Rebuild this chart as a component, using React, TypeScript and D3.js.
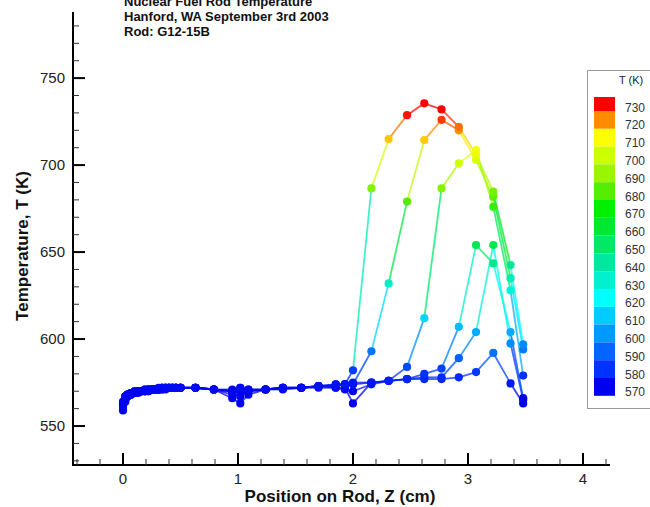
import React from 'react';
import * as d3 from 'd3';

// positions along the rod (cm), shared by every curve
const zPos = [0, 0.02, 0.04, 0.07, 0.1, 0.13, 0.16, 0.19, 0.22, 0.25, 0.28, 0.31, 0.34, 0.37, 0.4, 0.43, 0.46, 0.5,
  0.63, 0.79, 0.95, 1.02, 1.09, 1.24, 1.39, 1.55, 1.7, 1.85, 1.93, 2.0,
  2.16, 2.31, 2.47, 2.62, 2.77, 2.92, 3.07, 3.22, 3.37, 3.48];

// temperatures (K) for each curve
const tempA = [563, 566, 568, 569, 569, 570, 570, 570, 571, 571, 571, 571, 571, 572, 572, 572, 572, 572,
  572, 571, 570, 572, 571, 571, 572, 572, 573, 573, 574, 582,
  686.6, 715, 728.7, 735.5, 732, 722, 706, 684.7, 642.5, 597];
const tempB = [561, 565, 567, 568, 569, 569, 570, 570, 570, 571, 571, 571, 571, 571, 572, 572, 572, 572,
  572, 571, 570, 569, 570, 571, 572, 572, 573, 573, 574, 574,
  593, 632, 679, 714.4, 726, 720, 703, 681.8, 635, 594];
const tempC = [559, 564, 567, 568, 569, 570, 570, 570, 570, 571, 571, 571, 572, 572, 572, 572, 572, 572,
  572, 571, 566, 563, 568, 571, 572, 572, 572, 572, 571, 570,
  574, 576, 584, 612, 686.6, 701, 708.6, 676, 628, 579];
const tempD = [564, 567, 568, 569, 570, 570, 570, 571, 571, 571, 571, 572, 572, 572, 572, 572, 572, 572,
  572, 571, 568, 567, 570, 571, 571, 572, 573, 574, 574, 574,
  575, 576, 577, 580, 583, 607, 654, 643.5, 604, 566];
const tempE = [562, 566, 568, 569, 569, 570, 570, 570, 571, 571, 571, 571, 572, 572, 572, 572, 572, 572,
  572, 571, 571, 572, 570, 571, 572, 572, 573, 572, 572, 563,
  575, 576, 577, 578, 578, 589, 604, 654, 597.5, 565];
const tempF = [563, 567, 568, 569, 570, 570, 570, 571, 571, 571, 571, 571, 572, 572, 572, 572, 572, 572,
  572, 571, 570, 571, 571, 571, 572, 572, 573, 574, 574, 575,
  575, 576, 577, 577, 577, 578, 581, 592, 574.5, 563];

const curves = [tempF, tempE, tempD, tempC, tempB, tempA];

// contour legend
const legendLevels = [730, 720, 710, 700, 690, 680, 670, 660, 650, 640, 630, 620, 610, 600, 590, 580, 570];
const legendColors = ['#ff0000', '#ff8c00', '#ffff00', '#ccff00', '#99f500', '#55ee00', '#00f000', '#00e830',
  '#00e866', '#00e8a0', '#00f0d0', '#00ffff', '#00ccff', '#0099ff', '#0066ff', '#0033ff', '#0000f0'];

const titleLines = ['Nuclear Fuel Rod Temperature', 'Hanford, WA September 3rd 2003', 'Rod: G12-15B'];

const xMajor = [0, 1, 2, 3, 4];
const yMajor = [550, 600, 650, 700, 750];

export default function App() {
  const left = 73, right = 610, top = 12, bottom = 465;
  const x = d3.scaleLinear().domain([-0.435, 4.235]).range([left, right]);
  const y = d3.scaleLinear().domain([527.6, 788]).range([bottom, top]);
  const color = d3.scaleLinear<string>()
    .domain(legendLevels)
    .range(legendColors)
    .clamp(true);

  const xMinor = d3.range(-0.4, 4.21, 0.2).filter(v => Math.abs(v - Math.round(v)) > 0.01);
  const yMinor = d3.range(530, 781, 10).filter(v => v % 50 !== 0);

  const font = 'Liberation Sans, Arial, sans-serif';
  const legendTop = 107, legendStep = 17.8;

  return (
    <svg width={650} height={507} style={{ position: 'absolute', left: 0, top: 0, background: '#fff' }}
      fontFamily={font}>
      {/* title */}
      {titleLines.map((t, i) => (
        <text key={t} x={124} y={6 + i * 15} fontSize={13} fontWeight="bold" fill="#111">{t}</text>
      ))}

      {/* data lines */}
      {curves.map((c, ci) => (
        <g key={'l' + ci}>
          {c.slice(1).map((t, i) => (
            <line key={i} x1={x(zPos[i])} y1={y(c[i])} x2={x(zPos[i + 1])} y2={y(t)}
              stroke={color((c[i] + t) / 2)} strokeWidth={1.8} strokeOpacity={0.75} />
          ))}
        </g>
      ))}
      {/* data points */}
      {curves.map((c, ci) => (
        <g key={'p' + ci}>
          {c.map((t, i) => (
            <circle key={i} cx={x(zPos[i])} cy={y(t)} r={4.1} fill={color(t)} />
          ))}
        </g>
      ))}

      {/* axes */}
      <line x1={left} x2={left} y1={top} y2={bottom + 1} stroke="#000" strokeWidth={2} />
      <line x1={left - 1} x2={right} y1={bottom} y2={bottom} stroke="#000" strokeWidth={2} />
      {xMajor.map(v => (
        <g key={'xm' + v}>
          <line x1={x(v)} x2={x(v)} y1={bottom} y2={bottom - 12} stroke="#000" strokeWidth={2} />
          <text x={x(v)} y={484} fontSize={15} textAnchor="middle" fill="#222">{v}</text>
        </g>
      ))}
      {xMinor.map(v => (
        <line key={'xn' + v} x1={x(v)} x2={x(v)} y1={bottom} y2={bottom - 6} stroke="#333" strokeWidth={1} />
      ))}
      {yMajor.map(v => (
        <g key={'ym' + v}>
          <line x1={left} x2={left + 12} y1={y(v)} y2={y(v)} stroke="#000" strokeWidth={2} />
          <text x={65} y={y(v) + 5} fontSize={15} textAnchor="end" fill="#222">{v}</text>
        </g>
      ))}
      {yMinor.map(v => (
        <line key={'yn' + v} x1={left} x2={left + 6} y1={y(v)} y2={y(v)} stroke="#333" strokeWidth={1} />
      ))}

      <text x={340} y={502} fontSize={17} fontWeight="bold" textAnchor="middle" fill="#111">
        Position on Rod, Z (cm)
      </text>
      <text transform="translate(28,246) rotate(-90)" fontSize={17} fontWeight="bold" textAnchor="middle" fill="#111">
        Temperature, T (K)
      </text>

      {/* legend */}
      <rect x={587.5} y={70.5} width={70} height={338} fill="#fff" stroke="#999" />
      <text x={619} y={84} fontSize={11} fill="#222">T (K)</text>
      {legendLevels.map((lv, i) => {
        const yc = legendTop + i * legendStep;
        const y0 = i === 0 ? yc - 10 : yc - legendStep + 4;
        return (
          <g key={'lg' + lv}>
            <rect x={594} y={y0} width={21} height={yc + 4 - y0} fill={legendColors[i]} />
            <text x={625} y={yc + 4.5} fontSize={12} fill="#333">{lv}</text>
          </g>
        );
      })}
    </svg>
  );
}
